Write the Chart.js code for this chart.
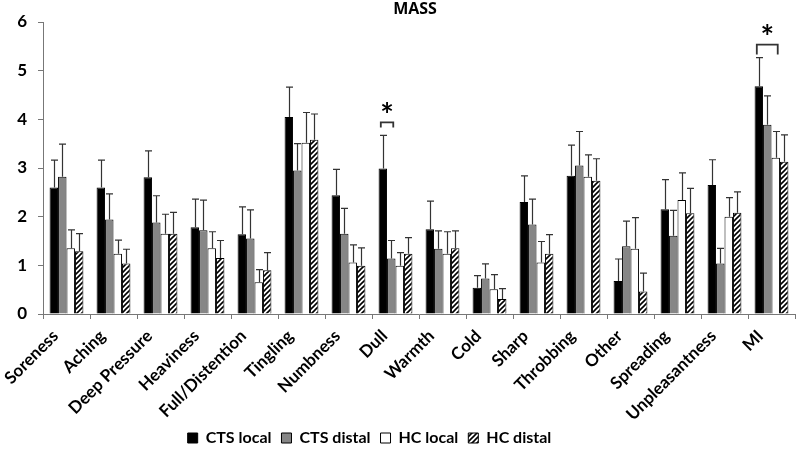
<!DOCTYPE html>
<html>
<head>
<meta charset="utf-8">
<script src="https://cdn.jsdelivr.net/npm/chart.js@4.4.0/dist/chart.umd.min.js"></script>
<style>
body { margin: 0; background: #fff; }
</style>
</head>
<body>
<canvas id="chart" width="800" height="449"></canvas>
<script>

categories = ["Soreness", "Aching", "Deep Pressure", "Heaviness", "Full/Distention", "Tingling",
              "Numbness", "Dull", "Warmth", "Cold", "Sharp", "Throbbing", "Other", "Spreading",
              "Unpleasantness", "MI"];

seriesNames = ["CTS local", "CTS distal", "HC local", "HC distal"];

ctsLocal    = [2.60, 2.60, 2.81, 1.78, 1.64, 4.05, 2.44, 2.99, 1.74, 0.54, 2.30, 2.84, 0.68, 2.15, 2.65, 4.68];
ctsDistal   = [2.82, 1.94, 1.88, 1.72, 1.55, 2.95, 1.65, 1.14, 1.34, 0.73, 1.84, 3.05, 1.39, 1.61, 1.04, 3.89];
hcLocal     = [1.35, 1.24, 1.65, 1.35, 0.65, 3.52, 1.06, 0.99, 1.24, 0.51, 1.06, 2.82, 1.34, 2.34, 2.00, 3.21];
hcDistal    = [1.29, 1.04, 1.65, 1.15, 0.90, 3.58, 0.99, 1.24, 1.35, 0.31, 1.24, 2.74, 0.46, 2.07, 2.08, 3.13];

// standard errors (upper bars only)
ctsLocalErr  = [0.56, 0.56, 0.54, 0.58, 0.56, 0.61, 0.53, 0.68, 0.58, 0.25, 0.54, 0.63, 0.45, 0.61, 0.52, 0.59];
ctsDistalErr = [0.67, 0.53, 0.55, 0.62, 0.59, 0.55, 0.52, 0.37, 0.37, 0.30, 0.52, 0.70, 0.52, 0.52, 0.31, 0.59];
hcLocalErr   = [0.38, 0.28, 0.40, 0.34, 0.26, 0.62, 0.36, 0.27, 0.45, 0.30, 0.43, 0.45, 0.64, 0.56, 0.39, 0.54];
hcDistalErr  = [0.36, 0.29, 0.44, 0.36, 0.36, 0.53, 0.37, 0.33, 0.36, 0.21, 0.39, 0.45, 0.38, 0.51, 0.43, 0.55];

yTicks = [0, 1, 2, 3, 4, 5, 6];

chartTitle = "MASS";

// significance brackets: category, first and last series spanned
sigCategories = ["Dull", "MI"];
sigFrom = [0, 0];
sigTo   = [1, 2];

Chart.defaults.font.family = "Lato, 'Open Sans', sans-serif";
Chart.defaults.color = "#000";

var canvas = document.getElementById("chart");
var ctx = canvas.getContext("2d");

function makeHatch()
{
    var c = document.createElement("canvas");
    c.width = 5;
    c.height = 5;
    var g = c.getContext("2d");
    g.fillStyle = "#fff";
    g.fillRect(0, 0, 5, 5);
    g.strokeStyle = "#000";
    g.lineWidth = 1.6;
    g.beginPath();
    g.moveTo(0, 5); g.lineTo(5, 0);
    g.moveTo(-1, 1); g.lineTo(1, -1);
    g.moveTo(4, 6); g.lineTo(6, 4);
    g.stroke();
    return ctx.createPattern(c, "repeat");
}

var means = [ctsLocal, ctsDistal, hcLocal, hcDistal];
var errors = [ctsLocalErr, ctsDistalErr, hcLocalErr, hcDistalErr];
var fills = ["#000000", "#868686", "#ffffff", makeHatch()];

var errorBars = {
    id: "errorBars",
    afterDatasetsDraw(chart)
    {
        var c = chart.ctx;
        var y = chart.scales.y;
        c.save();
        c.strokeStyle = "#333";
        c.lineWidth = 1.2;
        for (var i = 0; i < means.length; i++)
        {
            var meta = chart.getDatasetMeta(i);
            meta.data.forEach((bar, j) =>
            {
                var top = y.getPixelForValue(means[i][j] + errors[i][j]);
                var x = Math.round(bar.x) + 0.5;
                c.beginPath();
                c.moveTo(x, bar.y);
                c.lineTo(x, top);
                c.moveTo(x - 3.5, top);
                c.lineTo(x + 3.5, top);
                c.stroke();
            });
        }
        c.restore();
    }
};

// title centred over the plot area, plus the significance marks
var annotations = {
    id: "annotations",
    afterLayout(chart)
    {
        // legend sits a little left of the canvas centre in the original
        chart.legend.left -= 28;
        chart.legend.right -= 28;
    },
    afterDatasetsDraw(chart)
    {
        var c = chart.ctx;
        var y = chart.scales.y;
        var area = chart.chartArea;
        c.save();
        c.fillStyle = "#000";
        c.textAlign = "center";
        c.textBaseline = "middle";
        c.font = "bold 16px 'Open Sans', sans-serif";
        c.fillText(chartTitle, (area.left + area.right) / 2 - 4, 9);

        c.strokeStyle = "#333";
        c.lineWidth = 1.8;
        c.font = "bold 32px Lato, sans-serif";
        for (var k = 0; k < sigCategories.length; k++)
        {
            var j = categories.indexOf(sigCategories[k]);
            var topVal = 0;
            for (var i = sigFrom[k]; i <= sigTo[k]; i++)
                topVal = Math.max(topVal, means[i][j] + errors[i][j]);
            var x1 = chart.getDatasetMeta(sigFrom[k]).data[j].x - 2;
            var x2 = chart.getDatasetMeta(sigTo[k]).data[j].x + 2;
            var yb = y.getPixelForValue(topVal) - 13;
            var leg = (sigTo[k] - sigFrom[k]) * 5;
            c.beginPath();
            c.moveTo(x1, yb + leg);
            c.lineTo(x1, yb);
            c.lineTo(x2, yb);
            c.lineTo(x2, yb + leg);
            c.stroke();
            c.fillText("*", (x1 + x2) / 2, yb - 6);
        }
        c.restore();
    }
};

var datasets = [];
for (var i = 0; i < seriesNames.length; i++)
{
    datasets.push({
        label: seriesNames[i],
        data: means[i],
        backgroundColor: fills[i],
        borderColor: "#000",
        borderWidth: 1,
        categoryPercentage: 0.72,
        barPercentage: 1.0
    });
}

new Chart(ctx, {
    type: "bar",
    data: { labels: categories, datasets: datasets },
    plugins: [errorBars, annotations],
    options: {
        responsive: false,
        animation: false,
        layout: { padding: { left: 0, right: 5, top: 22, bottom: -7 } },
        plugins: {
            title: { display: false },
            legend: {
                position: "bottom",
                labels: {
                    boxWidth: 10,
                    boxHeight: 10,
                    padding: 10,
                    font: { size: 16, weight: "bold" }
                }
            },
            tooltip: { enabled: false }
        },
        scales: {
            x: {
                afterFit: s => { s.height = 106; },
                grid: { display: true, drawOnChartArea: false, offset: true, tickLength: 5, color: "#777" },
                border: { color: "#777", width: 1 },
                ticks: {
                    minRotation: 45,
                    maxRotation: 45,
                    padding: 7,
                    labelOffset: -11,
                    font: { size: 17, weight: "bold" }
                }
            },
            y: {
                min: 0,
                max: 6,
                afterBuildTicks: s => { s.ticks = yTicks.map(v => ({ value: v })); },
                afterFit: s => { s.width = 43; },
                grid: { display: true, drawOnChartArea: false, tickLength: 5, color: "#777" },
                border: { color: "#777", width: 1 },
                ticks: {
                    padding: 11,
                    font: { size: 17, weight: "bold" }
                }
            }
        }
    }
});
</script>
</body>
</html>
